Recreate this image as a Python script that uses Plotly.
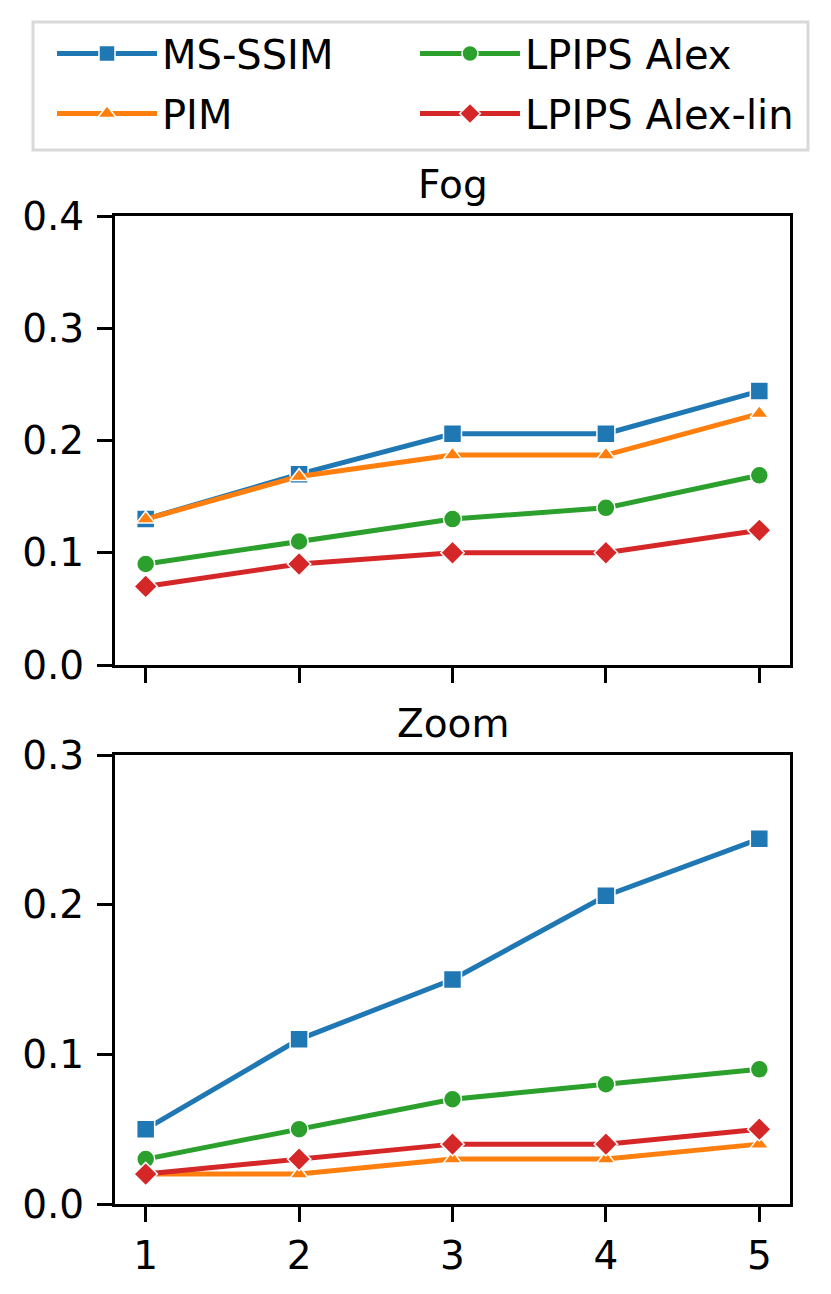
import plotly.graph_objects as go

# data
steps = [1, 2, 3, 4, 5]
metric_names = ["MS-SSIM", "PIM", "LPIPS Alex", "LPIPS Alex-lin"]

fog_ms_ssim = [0.130, 0.170, 0.206, 0.206, 0.244]
fog_pim = [0.130, 0.168, 0.187, 0.187, 0.224]
fog_alex = [0.090, 0.110, 0.130, 0.140, 0.169]
fog_alex_lin = [0.070, 0.090, 0.100, 0.100, 0.120]

zoom_ms_ssim = [0.050, 0.110, 0.150, 0.206, 0.244]
zoom_pim = [0.020, 0.020, 0.030, 0.030, 0.040]
zoom_alex = [0.030, 0.050, 0.070, 0.080, 0.090]
zoom_alex_lin = [0.020, 0.030, 0.040, 0.040, 0.050]

fog_yticks = [0.0, 0.1, 0.2, 0.3, 0.4]
zoom_yticks = [0.0, 0.1, 0.2, 0.3]

W, H = 831, 1294
OFF = 8  # page body margin of the html
FONT = "DejaVu Sans"
FS = 39
LEG_FS = 40

colors = ["#1f77b4", "#ff7f0e", "#2ca02c", "#d62728"]
symbols = ["square", "triangle-up", "circle", "diamond"]
msizes = [18, 16, 18, 18]
legends = ["legend", "legend", "legend2", "legend2"]


def px(xp):
    return (xp - OFF) / W


def py(yp):
    return 1 - (yp - OFF) / H


fig = go.Figure()

panels = [
    ("x", "y", [fog_ms_ssim, fog_pim, fog_alex, fog_alex_lin], True),
    ("x2", "y2", [zoom_ms_ssim, zoom_pim, zoom_alex, zoom_alex_lin], False),
]
for xa, ya, series, show in panels:
    for i, vals in enumerate(series):
        fig.add_trace(go.Scatter(
            x=steps, y=vals, name=metric_names[i], xaxis=xa, yaxis=ya,
            mode="lines+markers",
            line=dict(color=colors[i], width=5),
            marker=dict(symbol=symbols[i], size=msizes[i], color=colors[i],
                        line=dict(color="white", width=1.5)),
            showlegend=show, legend=legends[i], legendgroup=metric_names[i],
            hoverinfo="skip",
        ))

axis_common = dict(
    showline=True, mirror=True, linecolor="black", linewidth=3,
    ticks="outside", ticklen=15, tickwidth=3, tickcolor="black",
    showgrid=False, zeroline=False, automargin=False,
    tickfont=dict(family=FONT, size=FS, color="black"),
)

fig.update_layout(
    width=W, height=H,
    margin=dict(l=0, r=0, t=0, b=0, autoexpand=False),
    paper_bgcolor="white", plot_bgcolor="white",
    font=dict(family=FONT, size=FS, color="black"),
    xaxis=dict(domain=[px(115), px(790)], anchor="y", range=[0.8, 5.2],
               tickvals=steps, showticklabels=False, **axis_common),
    yaxis=dict(domain=[py(665), py(216)], anchor="x", range=[0, 0.4],
               tickvals=fog_yticks, tickformat=".1f", ticklabelstandoff=5,
               **axis_common),
    xaxis2=dict(domain=[px(115), px(790)], anchor="y2", range=[0.8, 5.2],
                tickvals=steps, ticklabelstandoff=0, **axis_common),
    yaxis2=dict(domain=[py(1204), py(755)], anchor="x2", range=[0, 0.3],
                tickvals=zoom_yticks, tickformat=".1f", ticklabelstandoff=5,
                **axis_common),
    legend=dict(x=px(52), y=py(21), xanchor="left", yanchor="top",
                bgcolor="rgba(0,0,0,0)", borderwidth=0, itemwidth=100,
                tracegroupgap=5, font=dict(family=FONT, size=LEG_FS)),
    legend2=dict(x=px(415), y=py(21), xanchor="left", yanchor="top",
                 bgcolor="rgba(0,0,0,0)", borderwidth=0, itemwidth=100,
                 tracegroupgap=5, font=dict(family=FONT, size=LEG_FS)),
    shapes=[dict(type="rect", xref="paper", yref="paper",
                 x0=px(33), x1=px(808), y0=py(150), y1=py(22),
                 line=dict(color="#d9d9d9", width=3), layer="below")],
    annotations=[
        dict(text="Fog", xref="paper", yref="paper", x=px(452.5), y=py(216),
             xanchor="center", yanchor="bottom", yshift=7, showarrow=False,
             font=dict(family=FONT, size=FS)),
        dict(text="Zoom", xref="paper", yref="paper", x=px(452.5), y=py(755),
             xanchor="center", yanchor="bottom", yshift=7, showarrow=False,
             font=dict(family=FONT, size=FS)),
    ],
)

fig.write_html("out.html")
